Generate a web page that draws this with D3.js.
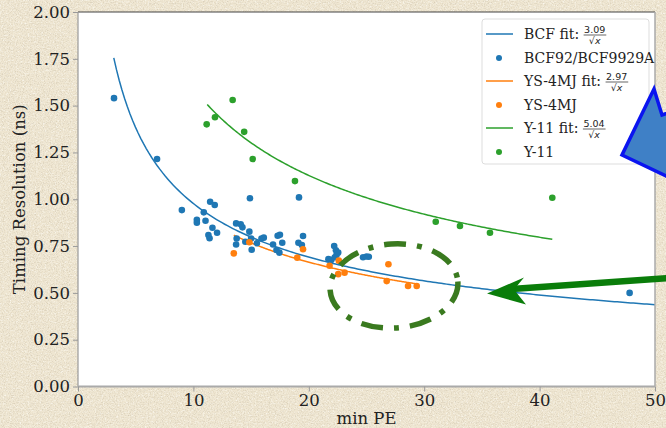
<!DOCTYPE html>
<html><head><meta charset="utf-8">
<script src="https://cdn.jsdelivr.net/npm/d3@7"></script>
<style>html,body{margin:0;padding:0;background:#efe6d1;}svg{display:block;}</style>
</head><body>
<svg id="chart" width="666" height="428"></svg>
<script>
// ---------- data ----------
const bcfPoints = [
  [3.12,1.54],[6.85,1.215],[9.0,0.942],[10.3,0.89],[10.3,0.875],[10.9,0.93],[11.05,0.885],
  [11.45,0.987],[11.85,0.969],[11.65,0.848],[12.05,0.821],[11.3,0.809],[11.4,0.792],
  [13.7,0.871],[14.1,0.866],[14.25,0.85],[14.85,0.827],[13.75,0.79],[13.7,0.758],[14.5,0.773],
  [15.0,0.79],[15.05,0.73],[15.9,0.79],[16.1,0.795],[15.5,0.765],[16.9,0.758],[17.3,0.805],
  [17.5,0.81],[17.7,0.768],[17.2,0.729],[17.45,0.715],[19.1,0.768],[19.4,0.756],[19.5,0.804],
  [21.7,0.68],[21.95,0.676],[22.2,0.75],[22.35,0.728],[22.55,0.715],[22.4,0.702],[22.25,0.69],
  [24.7,0.69],[25.0,0.694],[25.2,0.693],[14.9,1.005],[19.15,1.01],[47.8,0.50]
];
const ysPoints = [
  [13.5,0.711],[14.85,0.77],[19.0,0.688],[19.5,0.733],[21.8,0.645],[22.6,0.672],[22.55,0.60],
  [23.1,0.608],[26.75,0.563],[26.9,0.653],[28.6,0.537],[29.35,0.537]
];
const y11Points = [
  [11.15,1.40],[11.87,1.438],[13.4,1.53],[14.4,1.36],[15.14,1.215],[18.8,1.097],
  [31.0,0.88],[33.1,0.857],[35.7,0.821],[41.1,1.008]
];
const fitCoefs = [3.09, 2.97, 5.04];
const fitRanges = [[3.1,50],[13.5,29.4],[11.2,41.1]];
const seriesNames = ["BCF92/BCF9929A","YS-4MJ","Y-11"];
const fitNames = ["BCF fit:","YS-4MJ fit:","Y-11 fit:"];
const xTicks = [0,10,20,30,40,50];
const yTicks = [0,0.25,0.5,0.75,1.0,1.25,1.5,1.75,2.0];
const xLabel = "min PE";
const yLabel = "Timing Resolution (ns)";

// ---------- drawing ----------
const colors = ["#1f77b4","#ff7f0e","#2ca02c"];
const svg = d3.select("#chart");
const W = 666, H = 428;
const serif = "'DejaVu Serif', serif";
const sans = "'DejaVu Sans', sans-serif";

const defs = svg.append("defs");
const f = defs.append("filter").attr("id","paper").attr("x",0).attr("y",0).attr("width","100%").attr("height","100%");
f.append("feTurbulence").attr("type","fractalNoise").attr("baseFrequency",0.85).attr("numOctaves",3).attr("seed",7).attr("result","t");
f.append("feColorMatrix").attr("in","t").attr("type","matrix")
  .attr("values","0 0 0 0 0.62  0 0 0 0 0.55  0 0 0 0 0.42  1.6 0 0 0 -0.72");
const f2 = defs.append("filter").attr("id","paper2").attr("x",0).attr("y",0).attr("width","100%").attr("height","100%");
f2.append("feTurbulence").attr("type","fractalNoise").attr("baseFrequency",0.6).attr("numOctaves",2).attr("seed",3).attr("result","t");
f2.append("feColorMatrix").attr("in","t").attr("type","matrix")
  .attr("values","0 0 0 0 1  0 0 0 0 1  0 0 0 0 0.97  0 1.6 0 0 -0.75");

svg.append("rect").attr("width",W).attr("height",H).attr("fill","#efe6d1");
svg.append("rect").attr("width",W).attr("height",H).attr("filter","url(#paper2)");
svg.append("rect").attr("width",W).attr("height",H).attr("filter","url(#paper)");

const L = 78, R = 655, T = 12, B = 386.5;
const x = d3.scaleLinear().domain([0,50]).range([L,R]);
const y = d3.scaleLinear().domain([0,2]).range([B,T]);

defs.append("clipPath").attr("id","plotclip").append("rect").attr("x",L).attr("y",T).attr("width",R-L).attr("height",B-T);

svg.append("rect").attr("x",L).attr("y",T).attr("width",R-L).attr("height",B-T).attr("fill","#fff");

const plot = svg.append("g").attr("clip-path","url(#plotclip)");

// fit lines
const line = d3.line().x(d=>x(d[0])).y(d=>y(d[1]));
fitCoefs.forEach((c,i)=>{
  const [a,b] = fitRanges[i];
  const pts = d3.range(0,201).map(k=>{const xv=a+(b-a)*k/200; return [xv, c/Math.sqrt(xv)];});
  plot.append("path").attr("d",line(pts)).attr("fill","none").attr("stroke",colors[i]).attr("stroke-width",1.5);
});

// scatter points
[bcfPoints, ysPoints, y11Points].forEach((pts,i)=>{
  plot.append("g").selectAll("circle").data(pts).join("circle")
    .attr("cx",d=>x(d[0])).attr("cy",d=>y(d[1])).attr("r",3.3).attr("fill",colors[i]);
});

// spines
svg.append("line").attr("x1",L).attr("x2",R).attr("y1",T).attr("y2",T).attr("stroke","#444").attr("stroke-width",1.2);
svg.append("line").attr("x1",L).attr("x2",L).attr("y1",T).attr("y2",B).attr("stroke","#999").attr("stroke-width",1.2);
svg.append("line").attr("x1",R).attr("x2",R).attr("y1",T).attr("y2",B).attr("stroke","#aaa").attr("stroke-width",1.5);
svg.append("line").attr("x1",L).attr("x2",R).attr("y1",B).attr("y2",B).attr("stroke","#aaa").attr("stroke-width",1.8);

// axes
const xa = svg.append("g").attr("transform",`translate(0,${B})`)
  .call(d3.axisBottom(x).tickValues(xTicks).tickFormat(d3.format("d")).tickSize(5).tickPadding(3));
const ya = svg.append("g").attr("transform",`translate(${L},0)`)
  .call(d3.axisLeft(y).tickValues(yTicks).tickFormat(d3.format(".2f")).tickSize(5).tickPadding(3));
[xa,ya].forEach(g=>{
  g.select(".domain").remove();
  g.selectAll(".tick line").attr("stroke","#999");
  g.selectAll(".tick text").attr("font-family",serif).attr("font-size",16.5).attr("fill","#222");
});

svg.append("text").attr("x",(L+R)/2).attr("y",424).attr("text-anchor","middle")
  .attr("font-family",serif).attr("font-size",16.5).attr("fill","#222").text(xLabel);
svg.append("text").attr("transform",`translate(25,${(T+B)/2}) rotate(-90)`).attr("text-anchor","middle")
  .attr("font-family",serif).attr("font-size",16.5).attr("fill","#222").text(yLabel);

// legend
const lg = svg.append("g");
lg.append("rect").attr("x",482).attr("y",19).attr("width",167).attr("height",145).attr("rx",3)
  .attr("fill","#fff").attr("fill-opacity",0.85).attr("stroke","#ddd");
const rows = [34,58,81,105,128,152];
for (let i=0;i<3;i++){
  const yf = rows[2*i], yp = rows[2*i+1];
  lg.append("line").attr("x1",486).attr("x2",513).attr("y1",yf).attr("y2",yf).attr("stroke",colors[i]).attr("stroke-width",1.5);
  const t = lg.append("text").attr("x",524).attr("y",yf+5).attr("font-family",serif).attr("font-size",14).attr("fill","#222").text(fitNames[i]);
  const w = t.node().getComputedTextLength();
  const fx = 524 + w + 5;
  const num = lg.append("text").attr("x",fx).attr("y",yf-1.5).attr("font-family",sans).attr("font-size",9.5).attr("fill","#222").text(fitCoefs[i].toFixed(2));
  const nw = num.node().getComputedTextLength();
  lg.append("line").attr("x1",fx-0.5).attr("x2",fx+nw+1).attr("y1",yf+1).attr("y2",yf+1).attr("stroke","#222").attr("stroke-width",0.7);
  lg.append("text").attr("x",fx+nw/2).attr("y",yf+9.5).attr("text-anchor","middle").attr("font-family",sans).attr("font-size",9.5).attr("fill","#222")
    .append("tspan").text("\u221A").append("tspan").attr("font-style","italic").text("x");
  lg.append("circle").attr("cx",499).attr("cy",yp).attr("r",3).attr("fill",colors[i]);
  lg.append("text").attr("x",524).attr("y",yp+5).attr("font-family",serif).attr("font-size",14).attr("fill","#222").text(seriesNames[i]);
}

// annotations: blue block arrow (partly off-canvas)
svg.append("polygon").attr("points","654,89 662,115 720,95 760,190 705,200 666,176 622,155")
  .attr("fill","#3f80c6").attr("stroke","#0a14f0").attr("stroke-width",3.5).attr("stroke-linejoin","miter");

// green arrow
svg.append("line").attr("x1",700).attr("y1",276).attr("x2",512).attr("y2",289).attr("stroke","#0a7d0a").attr("stroke-width",6.5);
svg.append("polygon").attr("points","487,293.5 524,277.5 514,289.5 526,304.5").attr("fill","#0a7d0a");

// dashed ellipse
svg.append("ellipse").attr("cx",394).attr("cy",286).attr("rx",64).attr("ry",42)
  .attr("transform","rotate(-4,394,286)")
  .attr("fill","none").attr("stroke","#3a7a1f").attr("stroke-width",5.5)
  .attr("stroke-dasharray","22,11,5,11");
</script>
</body></html>
